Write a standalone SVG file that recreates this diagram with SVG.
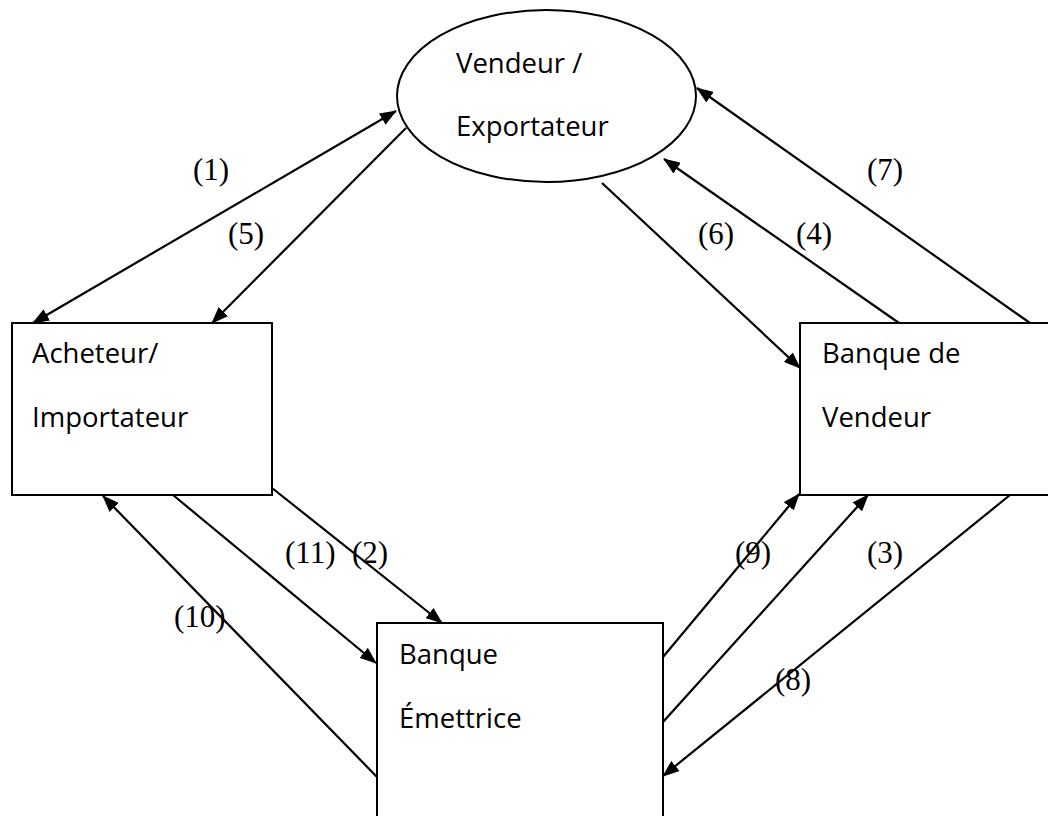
<svg xmlns="http://www.w3.org/2000/svg" width="1048" height="816" viewBox="0 0 1048 816">
<style>
.shape{fill:#fff;stroke:#000;stroke-width:2}
.t{font-family:"Open Sans","Noto Sans",sans-serif;font-size:27.5px;fill:#000}
.lbl{font-family:"Liberation Serif","Times New Roman",serif;font-size:31px;fill:#000}
.c line{stroke:#000;stroke-width:2.2;marker-end:url(#ah)}
</style>
<defs>
<marker id="ah" viewBox="0 0 17 13" refX="16" refY="6.5" markerWidth="17" markerHeight="13" markerUnits="userSpaceOnUse" orient="auto-start-reverse">
<path d="M0,0 L17,6.5 L0,13 z" fill="#000"/>
</marker>
</defs>
<rect width="1048" height="816" fill="#fff"/>
<g id="vendeur">
<ellipse class="shape" cx="546.5" cy="96" rx="149.5" ry="86"/>
<text class="t" x="456" y="73">Vendeur /</text>
<text class="t" x="456" y="136">Exportateur</text>
</g>
<g id="acheteur">
<rect class="shape" x="12" y="323" width="260" height="172"/>
<text class="t" x="32" y="363">Acheteur/</text>
<text class="t" x="32" y="427">Importateur</text>
</g>
<g id="banque-vendeur">
<rect class="shape" x="800" y="323" width="270" height="172"/>
<text class="t" x="822" y="363">Banque de</text>
<text class="t" x="822" y="427">Vendeur</text>
</g>
<g id="banque-emettrice">
<rect class="shape" x="377" y="623" width="286" height="220"/>
<text class="t" x="399" y="664">Banque</text>
<text class="t" x="399" y="728">Émettrice</text>
</g>
<g id="connectors" class="c">
<line x1="396" y1="111" x2="33" y2="323" style="marker-start:url(#ah)"/>
<line x1="406" y1="128" x2="212" y2="323"/>
<line x1="1030" y1="323" x2="697" y2="88"/>
<line x1="899" y1="323" x2="664" y2="159"/>
<line x1="602" y1="183" x2="800" y2="368"/>
<line x1="272" y1="488" x2="442" y2="623"/>
<line x1="173" y1="495" x2="376" y2="663"/>
<line x1="377" y1="777" x2="103" y2="496"/>
<line x1="663" y1="657" x2="799" y2="494"/>
<line x1="663" y1="722" x2="868" y2="495"/>
<line x1="1010" y1="495" x2="663" y2="776"/>
</g>
<g id="labels">
<text class="lbl" x="193" y="180">(1)</text>
<text class="lbl" x="228" y="244">(5)</text>
<text class="lbl" x="867" y="180">(7)</text>
<text class="lbl" x="698" y="244">(6)</text>
<text class="lbl" x="796" y="244">(4)</text>
<text class="lbl" x="285" y="563">(11)</text>
<text class="lbl" x="352" y="563">(2)</text>
<text class="lbl" x="174" y="627">(10)</text>
<text class="lbl" x="735" y="563">(9)</text>
<text class="lbl" x="867" y="563">(3)</text>
<text class="lbl" x="775" y="690">(8)</text>
</g>
</svg>
